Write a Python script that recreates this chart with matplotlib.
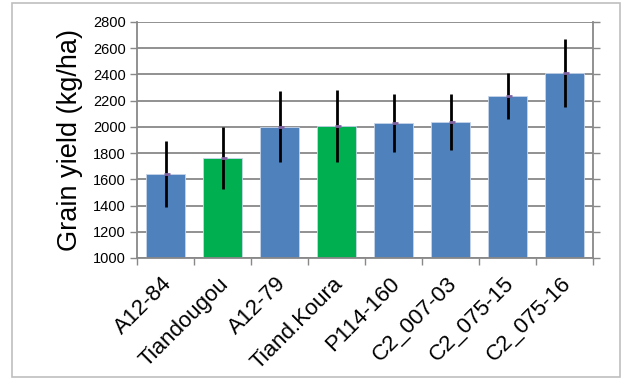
import numpy as np
import matplotlib
matplotlib.use('Agg')
import matplotlib.pyplot as plt
from matplotlib.patches import Rectangle

plt.rcParams['font.family'] = ['Liberation Sans', 'DejaVu Sans']

# genotypes and mean grain yield with spread (kg/ha)
genotypes = ['A12-84', 'Tiandougou', 'A12-79', 'Tiand.Koura',
             'P114-160', 'C2_007-03', 'C2_075-15', 'C2_075-16']
yields = [1643, 1763, 2000, 2007, 2032, 2040, 2238, 2411]
errors = [252, 235, 270, 274, 220, 214, 176, 262]
checks = [False, True, False, True, False, False, False, False]

BLUE = '#4F81BD'
GREEN = '#00B050'
GRID = '#888888'

fig = plt.figure(figsize=(6.22, 3.79), dpi=100)
ax = fig.add_axes([0.2203, 0.3193, 0.7331, 0.6227])

x = np.arange(len(genotypes))
colors = [GREEN if c else BLUE for c in checks]
ax.bar(x, yields, width=0.68, color=colors, edgecolor='#C6D5EA',
       linewidth=0.6, zorder=2)
ax.errorbar(x, yields, yerr=errors, fmt='none', ecolor='black',
            elinewidth=2, capsize=0, zorder=3)
ax.scatter(x + 0.02, yields, marker='_', s=18, color='#8064A2',
           linewidths=2, zorder=4)

ax.set_xlim(-0.5, len(genotypes) - 0.5)
ax.set_ylim(1000, 2800)
ax.set_yticks(np.arange(1000, 2801, 200))
ax.yaxis.grid(True, color=GRID, linewidth=1.3, zorder=0)
ax.set_axisbelow(True)

# ticks sit between categories on the x axis
ax.set_xticks(np.arange(-0.5, len(genotypes), 1.0))
ax.set_xticklabels([])
ax.tick_params(axis='x', length=5, width=1, color=GRID)
ax.tick_params(axis='y', length=5, width=1, color=GRID, labelsize=10.5,
               right=True, pad=3)
for i, name in enumerate(genotypes):
    ax.annotate(name, xy=(i, 1000), xytext=(-3, -11), textcoords='offset points',
                rotation=45, ha='right', va='top', rotation_mode='anchor',
                fontsize=16)

for side in ['left', 'bottom', 'right']:
    ax.spines[side].set_color(GRID)
    ax.spines[side].set_linewidth(1.3)
ax.spines['top'].set_visible(False)

ax.set_ylabel('Grain yield (kg/ha)', fontsize=19.5, labelpad=7)

fig.patches.append(Rectangle((12 / 622, 2 / 379), 608 / 622, 374 / 379,
                             transform=fig.transFigure, fill=False,
                             edgecolor='#BFBFBF', linewidth=1.2))

fig.savefig('out.png', dpi=100)
